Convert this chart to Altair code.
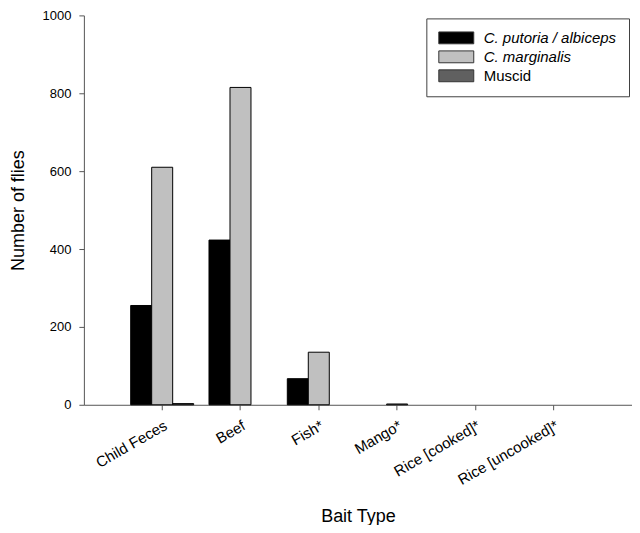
import altair as alt
import pandas as pd

categories = ["Child Feces", "Beef", "Fish*", "Mango*", "Rice [cooked]*", "Rice [uncooked]*"]
series = ["C. putoria / albiceps", "C. marginalis", "Muscid"]
putoria = [255, 423, 67, 0, 0, 0]
marginalis = [610, 815, 135, 2, 0, 0]
muscid = [3, 0, 0, 0, 0, 0]
colors = ["#000000", "#c0c0c0", "#606060"]
y_ticks = [0, 200, 400, 600, 800, 1000]

rows = []
for i, c in enumerate(categories):
    for s, vals in zip(series, [putoria, marginalis, muscid]):
        rows.append({"category": c, "series": s, "value": vals[i]})
df = pd.DataFrame(rows)

font = "Liberation Sans"
axis_col = "#555555"

chart = alt.Chart(df).transform_filter("datum.value > 0").mark_bar(
    stroke="#000000", strokeWidth=1
).encode(
    x=alt.X("category:N", sort=categories,
            scale=alt.Scale(domain=categories, paddingInner=0, paddingOuter=0.5),
            axis=alt.Axis(title="Bait Type", labelAngle=-30, labelAlign="right",
                          labelBaseline="top", labelFontSize=15, labelFont=font,
                          labelColor="#000000", tickSize=5, tickColor=axis_col,
                          domainColor=axis_col, labelPadding=8,
                          titleFont=font, titleFontSize=18, titleFontWeight="normal",
                          titleColor="#000000", titlePadding=20)),
    xOffset=alt.XOffset("series:N", sort=series,
                        scale=alt.Scale(domain=series, paddingInner=0, paddingOuter=0.365)),
    y=alt.Y("value:Q", scale=alt.Scale(domain=[0, 1000], nice=False),
            axis=alt.Axis(title="Number of flies", values=y_ticks, grid=False, format="d",
                          tickSize=5, tickColor=axis_col, domainColor=axis_col,
                          labelFontSize=13, labelFont=font, labelColor="#000000",
                          labelPadding=8, titleFont=font, titleFontSize=18,
                          titleFontWeight="normal", titleColor="#000000",
                          titlePadding=15)),
    color=alt.Color("series:N", sort=series,
                    scale=alt.Scale(domain=series, range=colors),
                    legend=alt.Legend(title=None, orient="none", legendX=343, legendY=3,
                                      strokeColor="#404040", fillColor="#ffffff",
                                      padding=12, symbolType="M-2.5,-0.85H2.5V0.85H-2.5Z",
                                      symbolSize=196, symbolOffset=10.5,
                                      symbolStrokeColor="#333333",
                                      symbolStrokeWidth=1, labelFontSize=15,
                                      labelFont=font, labelColor="#000000",
                                      labelOffset=20, rowPadding=2,
                                      labelFontStyle=alt.ExprRef("datum.label == 'Muscid' ? 'normal' : 'italic'"))),
).properties(
    width=549, height=390,
    autosize=alt.AutoSizeParams(type="none"),
    padding={"left": 76, "top": 7, "right": 0, "bottom": 120},
).configure_view(stroke=None)

chart.save("out.html", embed_options={"renderer": "svg", "actions": False})
